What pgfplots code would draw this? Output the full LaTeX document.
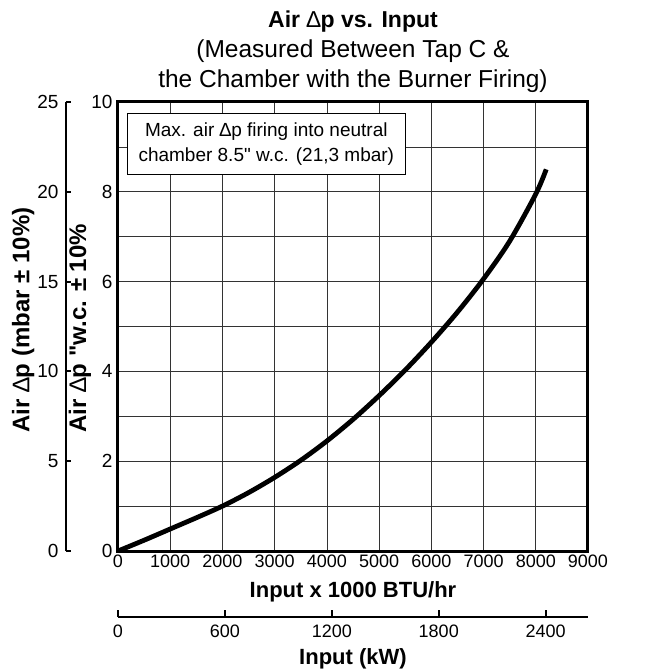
\documentclass[border=0pt]{standalone}
\usepackage{fontspec}
\setmainfont{Liberation Sans}[Ligatures=TeXOff]
\usepackage{pgfplots}
\pgfplotsset{compat=1.18}
\pgfplotsset{/pgf/number format/assume math mode=true}

\newcommand{\tickfont}{\fontsize{19bp}{22bp}\selectfont}
\newcommand{\xtickfont}{\fontsize{18bp}{22bp}\selectfont}
\newcommand{\labfont}{\fontsize{22bp}{26bp}\selectfont\bfseries}
\newcommand{\ylabfont}{\fontsize{24bp}{28bp}\selectfont\bfseries}
\newcommand{\D}{{\mdseries ∆}}

\begin{document}
\begin{tikzpicture}
\path[use as bounding box] (-118bp,-120bp) rectangle (547bp,551bp);

% main axis: inches w.c. against 1000 BTU/hr
\begin{axis}[
  at={(0,0)}, anchor=south west,
  scale only axis, width=470bp, height=449bp,
  xmin=0, xmax=9000, ymin=0, ymax=10,
  xtick={0,1000,...,9000},
  ytick={0,2,...,10},
  minor ytick={1,3,...,9},
  grid=both,
  major grid style={black!80, line width=0.7bp},
  minor grid style={black!80, line width=0.7bp},
  major tick length=0pt, minor tick length=0pt,
  axis line style={line width=3bp},
  scaled x ticks=false,
  xticklabel style={font=\xtickfont, /pgf/number format/1000 sep={}},
  yticklabel style={font=\tickfont, xshift=-2bp},
  title={{\fontsize{23bp}{30bp}\selectfont\textbf{Air \D p vs. Input}}\\(Measured Between Tap C \&\\the Chamber with the Burner Firing)},
  title style={font=\fontsize{24.5bp}{30bp}\selectfont, align=center, at={(0.5,1)}, anchor=south, inner sep=0pt, yshift=3bp},
  xlabel={Input x 1000 BTU/hr},
  xlabel style={font=\labfont, at={(axis description cs:0.5,0)}, anchor=center, yshift=-41bp},
  clip=false,
]
\addplot[black, line width=4.8bp, smooth] coordinates {
  (0,0) (500,0.24) (1000,0.49) (1500,0.74) (2000,1.0) (2500,1.3)
  (3000,1.64) (3500,2.02) (4000,2.45) (4500,2.93) (5000,3.46)
  (5500,4.03) (6000,4.65) (6500,5.32) (7000,6.06) (7500,6.9)
  (8000,7.95) (8200,8.5)
};
\node[draw, fill=white, line width=0.9bp, align=center, inner sep=0pt,
      minimum width=278bp, minimum height=61bp,
      font=\fontsize{19bp}{25bp}\selectfont]
  at (axis cs:2840,9.07) {Max. air \D p firing into neutral\\chamber 8.5" w.c. (21,3 mbar)};
\node[rotate=90, anchor=west, font=\ylabfont, inner sep=0pt]
  at (rel axis cs:-0.081,0.263) {Air \D p "w.c. ± 10\%};
\node[rotate=90, anchor=west, font=\ylabfont, inner sep=0pt]
  at (rel axis cs:-0.202,0.263) {Air \D p (mbar ± 10\%)};
\end{axis}

% mbar scale on the left
\begin{axis}[
  at={(-52bp,0)}, anchor=south west,
  scale only axis, width=10bp, height=449bp,
  xmin=0, xmax=1, ymin=0, ymax=25,
  axis x line=none, axis y line=left, xtick=\empty,
  y axis line style={-, line width=2bp},
  ytick={0,5,...,25},
  tick align=inside, major tick length=5bp,
  tick style={black, line width=2bp},
  yticklabel style={font=\tickfont, xshift=-4bp},
]
\end{axis}

% kW scale below
\begin{axis}[
  at={(0,-66bp)}, anchor=south west,
  scale only axis, width=470bp, height=10bp,
  xmin=0, xmax=2637.6, ymin=0, ymax=1,
  axis y line=none, axis x line=bottom, ytick=\empty,
  x axis line style={-, line width=2bp},
  xtick={0,600,...,2400},
  tick align=inside, major tick length=7bp,
  tick style={black, line width=2bp},
  xticklabel style={font=\xtickfont, /pgf/number format/1000 sep={}, yshift=-4bp},
  xlabel={Input (kW)},
  xlabel style={font=\labfont, at={(axis description cs:0.5,0)}, anchor=center, yshift=-42bp},
]
\end{axis}
\end{tikzpicture}
\end{document}
